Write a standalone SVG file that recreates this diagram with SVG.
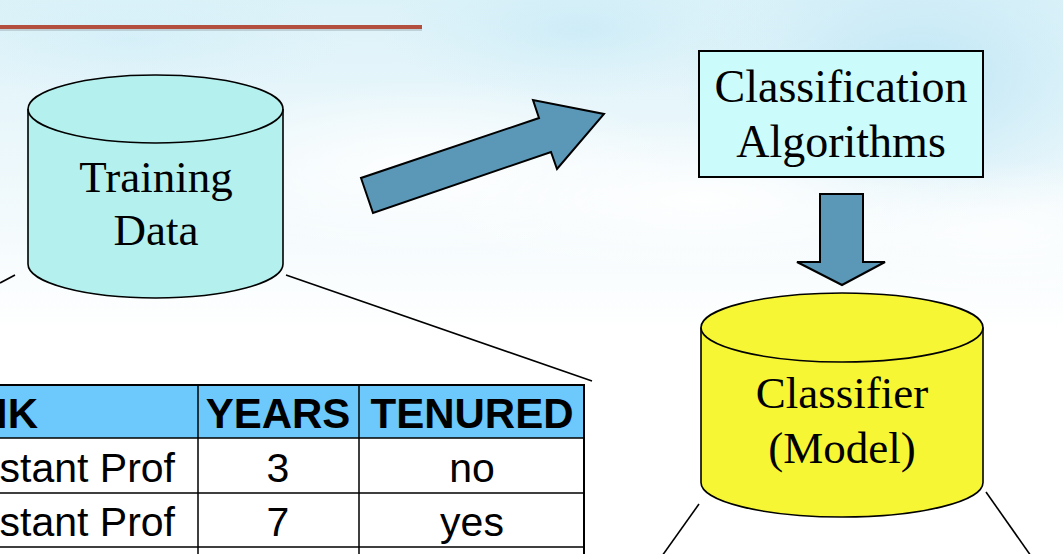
<svg xmlns="http://www.w3.org/2000/svg" width="1063" height="554" viewBox="0 0 1063 554">
<defs>
<linearGradient id="sky" x1="0" y1="0" x2="0" y2="1">
<stop offset="0" stop-color="#dcf2f9"/>
<stop offset="0.35" stop-color="#f0f9fc"/>
<stop offset="0.6" stop-color="#ffffff"/>
<stop offset="1" stop-color="#ffffff"/>
</linearGradient>
<radialGradient id="blue1" cx="0.5" cy="0.5" r="0.5">
<stop offset="0" stop-color="#b9e4f4" stop-opacity="0.9"/>
<stop offset="1" stop-color="#c8eaf6" stop-opacity="0"/>
</radialGradient>
<radialGradient id="cloud" cx="0.5" cy="0.5" r="0.5">
<stop offset="0" stop-color="#ffffff" stop-opacity="0.95"/>
<stop offset="1" stop-color="#ffffff" stop-opacity="0"/>
</radialGradient>
<style>
.cyl{stroke:#000;stroke-width:1.6}
.lbl{font-family:"Liberation Serif","Times New Roman",serif;font-size:45px;fill:#000;text-anchor:middle}
.blk{fill:#5b97b7;stroke:#000;stroke-width:2;stroke-linejoin:miter}
.conn{stroke:#000;stroke-width:1.6;fill:none}
.th{font-family:"Liberation Sans",Arial,sans-serif;font-weight:bold;font-size:42px;fill:#000;text-anchor:middle}
.td{font-family:"Liberation Sans",Arial,sans-serif;font-size:41px;fill:#000;text-anchor:middle}
.grid{stroke:#000;stroke-width:1.5;fill:none}
</style>
</defs>
<g id="background">
<rect width="1063" height="554" fill="url(#sky)"/>
<ellipse cx="920" cy="80" rx="240" ry="150" fill="url(#blue1)"/>
<ellipse cx="580" cy="30" rx="200" ry="70" fill="url(#blue1)" opacity="0.5"/>
<ellipse cx="130" cy="40" rx="220" ry="60" fill="url(#blue1)" opacity="0.3"/>
<ellipse cx="420" cy="170" rx="260" ry="90" fill="url(#cloud)"/>
<ellipse cx="700" cy="200" rx="300" ry="80" fill="url(#cloud)"/>
<ellipse cx="1000" cy="230" rx="200" ry="70" fill="url(#cloud)" opacity="0.8"/>
<rect x="0" y="29" width="422" height="2" fill="#9aa9b0" opacity="0.45"/>
<rect x="0" y="25" width="422" height="4" fill="#b24f3f"/>
</g>
<g id="connectors">
<line class="conn" x1="0" y1="283" x2="15" y2="275"/>
<line class="conn" x1="286" y1="275" x2="592" y2="381"/>
<line class="conn" x1="699" y1="504" x2="662" y2="556"/>
<line class="conn" x1="986" y1="492" x2="1031" y2="556"/>
<polygon id="arrow-train" class="blk" points="373,213 361,178 539,118 533,100 604,114 557,169 551,152"/>
<polygon id="arrow-down" class="blk" points="820,194 863,194 863,262 885,262 842,285 797,262 820,262"/>
</g>
<g id="training-data">
<path class="cyl" fill="#b4f1ee" d="M28,109 L28,264 A127.5,34 0 0 0 283,264 L283,109 A127.5,34 0 0 0 28,109 Z"/>
<path class="cyl" fill="none" d="M28,109 A127.5,34 0 0 0 283,109"/>
<text class="lbl" x="156" y="192">Training</text>
<text class="lbl" x="156" y="245">Data</text>
</g>
<g id="classification-algorithms">
<rect x="699" y="51" width="284" height="126" fill="#ccfbfc" stroke="#000" stroke-width="2"/>
<text class="lbl" x="841" y="102" style="font-size:46px">Classification</text>
<text class="lbl" x="841" y="157" style="font-size:46px">Algorithms</text>
</g>
<g id="classifier-model">
<path class="cyl" fill="#f6f634" d="M701,327.5 L701,482.5 A141,34.5 0 0 0 983,482.5 L983,327.5 A141,34.5 0 0 0 701,327.5 Z"/>
<path class="cyl" fill="none" d="M701,327.5 A141,34.5 0 0 0 983,327.5"/>
<text class="lbl" x="842" y="408">Classifier</text>
<text class="lbl" x="842" y="463">(Model)</text>
</g>
<g id="table">
<rect x="-5" y="385" width="589" height="53" fill="#6dc8fc"/>
<rect x="-5" y="438" width="589" height="120" fill="#ffffff"/>
<path class="grid" d="M-5,385 H584 V558 M-5,438 H584 M-5,493 H584 M-5,547 H584 M198,385 V558 M359,385 V558"/>
<path d="M-5,385 H584 V558" stroke="#000" stroke-width="2" fill="none"/>
<text class="th" x="38" y="428" style="text-anchor:end">NK</text>
<text class="th" x="278" y="428">YEARS</text>
<text class="th" x="472" y="428">TENURED</text>
<text class="td" x="175" y="482" style="text-anchor:end">stant Prof</text>
<text class="td" x="278" y="482">3</text>
<text class="td" x="472" y="482">no</text>
<text class="td" x="175" y="536" style="text-anchor:end">stant Prof</text>
<text class="td" x="278" y="536">7</text>
<text class="td" x="472" y="536">yes</text>
</g>
</svg>
